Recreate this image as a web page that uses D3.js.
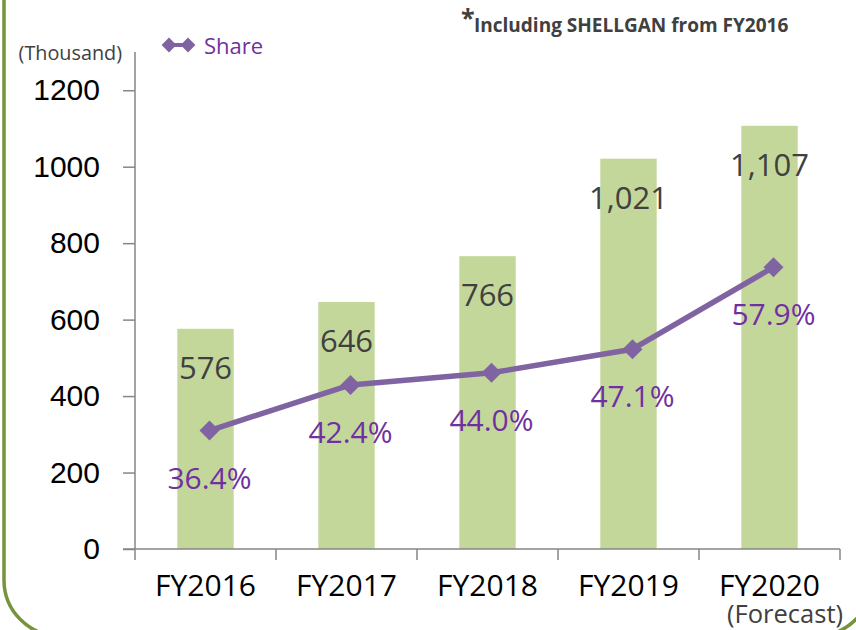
<!DOCTYPE html>
<html><head><meta charset="utf-8">
<script src="https://cdn.jsdelivr.net/npm/d3@7"></script>
<style>
html,body{margin:0;padding:0;background:#fff;}
svg{display:block;font-family:"Open Sans","Noto Sans",sans-serif;}
</style></head>
<body>
<svg id="c" width="856" height="630"></svg>
<script>
const categories = ["FY2016","FY2017","FY2018","FY2019","FY2020"];
const volumes = [576, 646, 766, 1021, 1107];
const volumeLabels = ["576","646","766","1,021","1,107"];
const shares = [36.4, 42.4, 44.0, 47.1, 57.9];
const yTicks = [0, 200, 400, 600, 800, 1000, 1200];
const yMax = 1300;
const shareDomain = [20.8, 81.2];
const unitLabel = "(Thousand)";
const legendLabel = "Share";
const footnote = "Including SHELLGAN from FY2016";
const forecastNote = "(Forecast)";

const svg = d3.select("#c");

// green rounded frame
svg.append("rect").attr("x",4).attr("y",-80).attr("width",868).attr("height",716)
  .attr("rx",56).attr("ry",56).attr("fill","none").attr("stroke","#77933C").attr("stroke-width",3.5);

const x0 = 135, x1 = 840, yBase = 549, yTop = 52;
const x = d3.scaleBand().domain(categories).range([x0, x1]).paddingInner(0.6).paddingOuter(0.3);
const y = d3.scaleLinear().domain([0, yMax]).range([yBase, yTop]);
const y2 = d3.scaleLinear().domain(shareDomain).range([yBase, y(1200)]);

const axisColor = "#868686";

// bars
svg.append("g").selectAll("rect").data(volumes).join("rect")
  .attr("x",(d,i)=>x(categories[i])).attr("width",x.bandwidth())
  .attr("y",d=>y(d)).attr("height",d=>yBase-y(d)).attr("fill","#C4D79B");

// y axis
const ya = svg.append("g").attr("transform",`translate(${x0},0)`)
  .call(d3.axisLeft(y).tickValues(yTicks).tickSize(12).tickPadding(23).tickFormat(d3.format("d")));
ya.select(".domain").remove();
ya.selectAll(".tick line").attr("stroke",axisColor).attr("stroke-width",1.5);
ya.selectAll(".tick text").attr("font-size",30).attr("fill","#000").attr("font-family",null);
svg.append("line").attr("x1",x0).attr("x2",x0).attr("y1",yTop).attr("y2",yBase)
  .attr("stroke",axisColor).attr("stroke-width",1.5);

// x axis
svg.append("line").attr("x1",x0-12).attr("x2",x1).attr("y1",yBase).attr("y2",yBase)
  .attr("stroke",axisColor).attr("stroke-width",1.5);
const bounds = categories.map(c=>x(c) - (x.step()-x.bandwidth())/2);
bounds.push(x1);
svg.append("g").selectAll("line").data(bounds).join("line")
  .attr("x1",d=>d).attr("x2",d=>d).attr("y1",yBase).attr("y2",yBase+11)
  .attr("stroke",axisColor).attr("stroke-width",1.5);
svg.append("g").selectAll("text").data(categories).join("text")
  .attr("x",d=>x(d)+x.bandwidth()/2).attr("y",596).attr("text-anchor","middle")
  .attr("font-size",30).attr("fill","#000").text(d=>d);
svg.append("text").attr("x",843).attr("y",623).attr("text-anchor","end")
  .attr("font-size",25.5).attr("fill","#404040").text(forecastNote);

// bar value labels
svg.append("g").selectAll("text").data(volumes).join("text")
  .attr("x",(d,i)=>x(categories[i])+x.bandwidth()/2).attr("y",d=>y(d)+50)
  .attr("text-anchor","middle").attr("font-size",31).attr("fill","#404040")
  .text((d,i)=>volumeLabels[i]);

// share line
const lx = (d,i)=>x(categories[i])+x.bandwidth()/2+4;
const line = d3.line().x(lx).y(d=>y2(d));
svg.append("path").datum(shares).attr("d",line).attr("fill","none")
  .attr("stroke","#8064A2").attr("stroke-width",5.5).attr("stroke-linejoin","round");
const diamond = d3.symbol().type(d3.symbolSquare).size(200);
svg.append("g").selectAll("path").data(shares).join("path")
  .attr("d",diamond).attr("fill","#8064A2")
  .attr("transform",(d,i)=>`translate(${lx(d,i)},${y2(d)}) rotate(45)`);
svg.append("g").selectAll("text").data(shares).join("text")
  .attr("x",lx).attr("y",d=>y2(d)+58).attr("text-anchor","middle")
  .attr("font-size",30).attr("fill","#7030A0").text(d=>d.toFixed(1)+"%");

// unit label
svg.append("text").attr("x",122).attr("y",60).attr("text-anchor","end")
  .attr("font-size",19.8).attr("fill","#404040").text(unitLabel);

// legend
svg.append("line").attr("x1",169).attr("x2",188).attr("y1",45).attr("y2",45)
  .attr("stroke","#8064A2").attr("stroke-width",4);
svg.append("g").selectAll("path").data([169,188]).join("path")
  .attr("d",d3.symbol().type(d3.symbolSquare).size(110)).attr("fill","#8064A2")
  .attr("transform",d=>`translate(${d},45) rotate(45)`);
svg.append("text").attr("x",204).attr("y",54).attr("font-size",22).attr("fill","#7030A0").text(legendLabel);

// footnote
svg.append("text").attr("x",461).attr("y",27).attr("font-size",25).attr("font-weight","bold")
  .attr("fill","#404040").text("*");
svg.append("text").attr("x",474).attr("y",32).attr("font-size",19).attr("font-weight","bold")
  .attr("fill","#404040").text(footnote);
</script>
</body></html>
